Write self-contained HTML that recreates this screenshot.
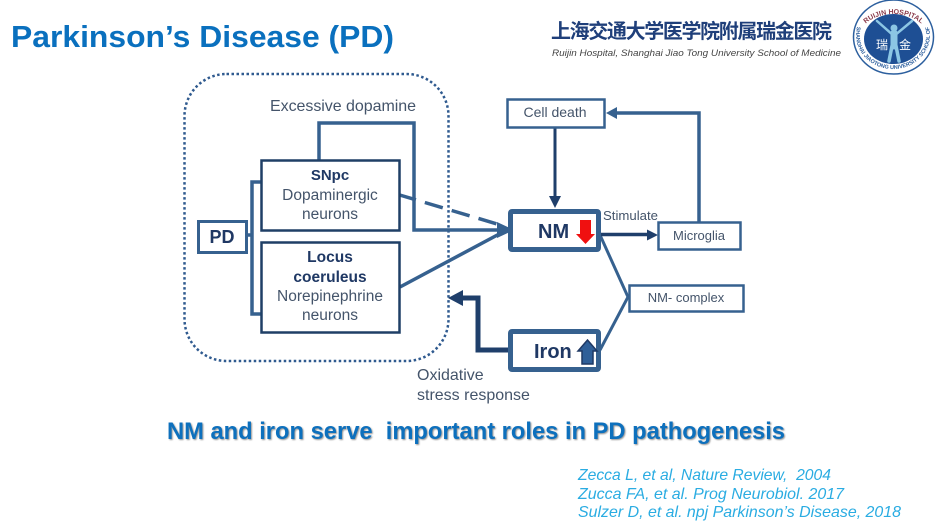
<!DOCTYPE html>
<html><head><meta charset="utf-8"><style>
html,body{margin:0;padding:0;background:#fff;width:941px;height:529px;overflow:hidden}
svg{display:block}
text{font-family:"Liberation Sans","Noto Sans CJK SC",sans-serif}
.g{fill:#44546a}.b{fill:#1f3864;font-weight:bold}
</style></head><body>
<svg width="941" height="529" viewBox="0 0 941 529" xmlns="http://www.w3.org/2000/svg">
<defs>
<path id="ringTop" d="M859 38A34.500 24 0 0 1 928 38"/>
<path id="ringBottom" d="M858 24A37 34 0 1 0 928 24"/>
</defs>
<rect width="941" height="529" fill="#fff"/>
<text x="11" y="47" font-size="31" font-weight="bold" fill="#0a70be" textLength="383" lengthAdjust="spacingAndGlyphs">Parkinson’s Disease (PD)</text>
<text x="551" y="38" font-size="20" font-weight="bold" fill="#1f3f7a" style='font-family:"Noto Sans CJK SC",sans-serif' textLength="281">上海交通大学医学院附属瑞金医院</text>
<text x="552" y="56" font-size="9.500" font-style="italic" fill="#444" textLength="289" lengthAdjust="spacingAndGlyphs">Ruijin Hospital,  Shanghai Jiao Tong University  School of Medicine</text>

<g>
<ellipse cx="893.500" cy="37" rx="40" ry="37" fill="#fff" stroke="#2c5f9e" stroke-width="1.500"/>
<ellipse cx="893.500" cy="39" rx="29.500" ry="25" fill="#1e4f94"/>
<text font-size="7" font-weight="bold" fill="#8a3a4a"><textPath href="#ringTop" startOffset="50%" text-anchor="middle">RUIJIN HOSPITAL</textPath></text>
<text font-size="5.500" font-weight="bold" fill="#2c5f9e"><textPath href="#ringBottom" startOffset="50%" text-anchor="middle">SHANGHAI JIAOTONG UNIVERSITY SCHOOL OF</textPath></text>
<g stroke="#8cc6e4" fill="none" stroke-linecap="round">
<path d="M877 21L894 36L912 21" stroke-width="2.500"/>
<path d="M894 33V46" stroke-width="7"/>
<path d="M892 46L889 61M896 46L899 61" stroke-width="3.500"/>
</g>
<circle cx="894" cy="28" r="3.500" fill="#8cc6e4"/>
<text x="882" y="49" font-size="12" fill="#fff" text-anchor="middle">瑞</text>
<text x="905" y="49" font-size="12" fill="#fff" text-anchor="middle">金</text>
</g>

<rect x="184.500" y="74" width="264" height="287" rx="42" fill="none" stroke="#2f5a8f" stroke-width="2.500" stroke-dasharray="2.500 2.500"/>

<g fill="none" stroke="#36618f">
<path d="M319 160V123H414V230H500" stroke-width="3.500"/>
<path d="M398 194.500L497 224" stroke-width="3.500" stroke-dasharray="18.700 9.300"/>
<path d="M400 287L503 232" stroke-width="3.500"/>
<path d="M261 182H252V314H261M247 235H252" stroke-width="3.500"/>
<path d="M600 235L628 297L600 350" stroke-width="3"/>
<path d="M699 222V113H612" stroke-width="3.500"/>
</g>
<path d="M497 222L514 230L497 238Z" fill="#36618f"/>
<path d="M606 113L617 107V119Z" fill="#36618f"/>

<g fill="none" stroke="#1f3f6b">
<path d="M555 127V200" stroke-width="3"/>
<path d="M600 234.500H650" stroke-width="3.500"/>
<path d="M509 350H478V298H458" stroke-width="5"/>
</g>
<path d="M555 208L549 196H561Z" fill="#1f3f6b"/>
<path d="M658 235L647 229.500V240.500Z" fill="#1f3f6b"/>
<path d="M448 298L463 290V306Z" fill="#1f3f6b"/>

<g fill="#fff">
<rect x="198.500" y="221.500" width="48" height="31" stroke="#36618f" stroke-width="3"/>
<rect x="261.500" y="160.500" width="138" height="70" stroke="#1f3f66" stroke-width="2.500"/>
<rect x="261.500" y="242.500" width="138" height="90" stroke="#1f3f66" stroke-width="2.500"/>
<rect x="507.500" y="99.500" width="97" height="28" stroke="#36618f" stroke-width="2.500"/>
<rect x="510.500" y="211.500" width="88" height="38" rx="1.500" stroke="#36618f" stroke-width="5"/>
<rect x="658.500" y="222.500" width="82" height="27" stroke="#36618f" stroke-width="2.500"/>
<rect x="629.500" y="285.500" width="114" height="26" stroke="#36618f" stroke-width="2.500"/>
<rect x="510.500" y="331.500" width="88" height="38" rx="1.500" stroke="#36618f" stroke-width="5"/>
</g>

<path d="M580 220H591V234H595L585.500 244L576 234H580Z" fill="#f01010"/>
<path d="M587.500 340L597 351H593V364H582V351H578Z" fill="#2f5f98" stroke="#1f3864" stroke-width="1.500"/>

<text x="222" y="243" font-size="18" class="b" text-anchor="middle">PD</text>
<text x="330" y="180" font-size="15" class="b" text-anchor="middle">SNpc</text>
<text x="330" y="200" font-size="15.500" class="g" text-anchor="middle">Dopaminergic</text>
<text x="330" y="219" font-size="15.500" class="g" text-anchor="middle">neurons</text>
<text x="330" y="262" font-size="15.500" class="b" text-anchor="middle">Locus</text>
<text x="330" y="282" font-size="15.500" class="b" text-anchor="middle">coeruleus</text>
<text x="330" y="301" font-size="15.500" class="g" text-anchor="middle">Norepinephrine</text>
<text x="330" y="320" font-size="15.500" class="g" text-anchor="middle">neurons</text>
<text x="270" y="111" font-size="16" class="g" textLength="146">Excessive dopamine</text>
<text x="555" y="117" font-size="14" class="g" text-anchor="middle">Cell death</text>
<text x="538" y="238" font-size="20" class="b">NM</text>
<text x="603" y="220" font-size="13" class="g" textLength="55" lengthAdjust="spacingAndGlyphs">Stimulate</text>
<text x="699" y="240" font-size="13" class="g" text-anchor="middle">Microglia</text>
<text x="686" y="302" font-size="13" class="g" text-anchor="middle">NM- complex</text>
<text x="534" y="358" font-size="20" class="b">Iron</text>
<text x="417" y="380" font-size="16" class="g">Oxidative</text>
<text x="417" y="400" font-size="16" class="g">stress response</text>

<text x="167" y="439" font-size="24" font-weight="bold" fill="#0d70bd" textLength="618" lengthAdjust="spacingAndGlyphs" style="filter:drop-shadow(1px 1.500px 0.800px rgba(60,60,60,.55))">NM and iron serve&#160; important roles in PD pathogenesis</text>
<g font-size="16" font-style="italic" fill="#2aace2">
<text x="578" y="480" textLength="253" lengthAdjust="spacingAndGlyphs">Zecca L, et al, Nature Review,&#160; 2004</text>
<text x="578" y="499" textLength="266" lengthAdjust="spacingAndGlyphs">Zucca FA, et al. Prog Neurobiol. 2017</text>
<text x="578" y="517" textLength="323" lengthAdjust="spacingAndGlyphs">Sulzer D, et al. npj Parkinson’s Disease, 2018</text>
</g>
</svg>
</body></html>
